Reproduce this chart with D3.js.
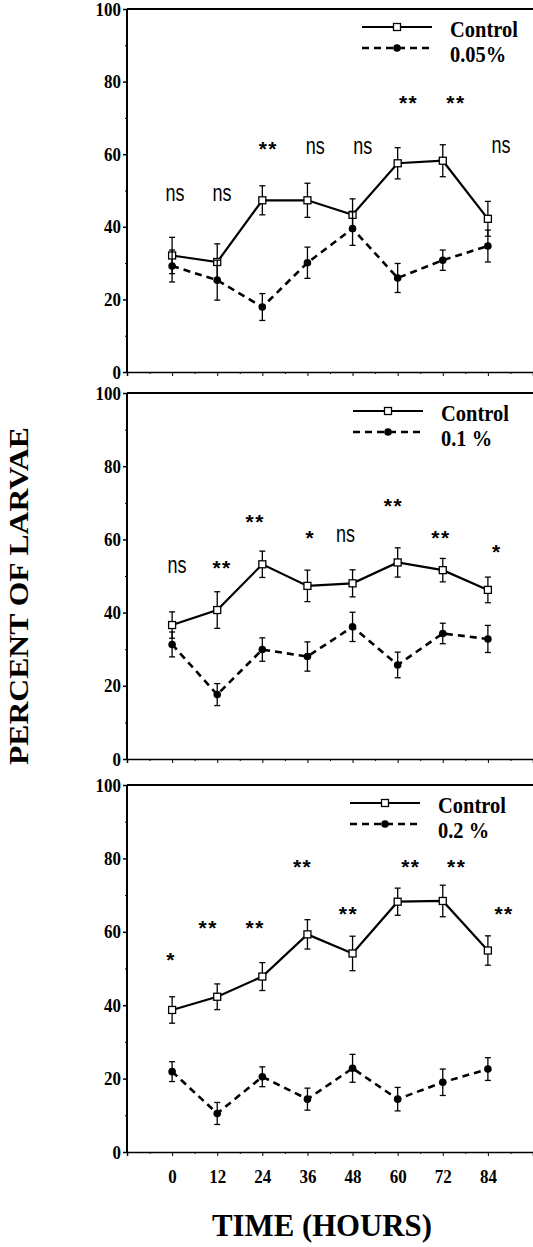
<!DOCTYPE html>
<html><head><meta charset="utf-8">
<script src="https://cdn.jsdelivr.net/npm/d3@7"></script>
<style>body{margin:0;background:#fff}svg{display:block}</style>
</head><body>
<svg id="chart" width="533" height="1247"></svg>
<script>
// ---------- data ----------
const hours = [0, 12, 24, 36, 48, 60, 72, 84];
const xTickLabels = ["0", "12", "24", "36", "48", "60", "72", "84"];
const yTicks = [0, 20, 40, 60, 80, 100];
const yMinorTicks = [10, 30, 50, 70, 90];
const xMinorTicks = [-6, 6, 18, 30, 42, 54, 66, 78, 90];
const controlName = "Control";
const doseNames = ["0.05%", "0.1 %", "0.2 %"];

const control005 = [32.1, 30.3, 47.3, 47.3, 43.3, 57.5, 58.2, 42.2];
const control005Err = [5.0, 5.0, 4.0, 4.7, 4.4, 4.3, 4.4, 4.8];
const dose005 = [29.2, 25.3, 17.9, 30.1, 39.5, 25.9, 30.8, 34.7];
const dose005Err = [4.4, 5.5, 3.7, 4.3, 4.6, 4.0, 2.8, 4.4];
const sig005 = ["ns", "ns", "**", "ns", "ns", "**", "**", "ns"];
const sig005Level = [49, 49, 62.8, 61.9, 61.9, 75.6, 75.6, 62];
const sig005Hour = [0.8, 13.3, 25.6, 38.1, 50.7, 62.9, 75.5, 87.5];

const control01 = [36.6, 40.7, 53.2, 47.3, 48.0, 53.7, 51.6, 46.2];
const control01Err = [3.6, 5.0, 3.6, 4.3, 3.7, 4.0, 3.2, 3.5];
const dose01 = [31.3, 17.6, 29.9, 28.0, 36.1, 25.7, 34.3, 32.8];
const dose01Err = [3.4, 3.0, 3.2, 4.0, 4.0, 3.5, 2.8, 3.7];
const sig01 = ["ns", "**", "**", "*", "ns", "**", "**", "*"];
const sig01Level = [52.5, 53.5, 66, 61.7, 61, 70.5, 61.8, 58];
const sig01Hour = [1.3, 13.3, 22.1, 36.8, 46.1, 58.9, 71.5, 86.4];

const control02 = [38.7, 42.3, 47.8, 59.3, 54.1, 68.2, 68.4, 54.9];
const control02Err = [3.6, 3.5, 3.8, 4.0, 4.7, 3.7, 4.3, 4.0];
const dose02 = [21.9, 10.5, 20.5, 14.4, 22.8, 14.4, 19.0, 22.6];
const dose02Err = [2.7, 3.0, 2.7, 3.0, 3.8, 3.2, 3.6, 3.1];
const sig02 = ["*", "**", "**", "**", "**", "**", "**", "**"];
const sig02Level = [53.7, 62.4, 62.4, 79.1, 66.2, 79.1, 79.1, 66.2];
const sig02Hour = [-0.3, 9.6, 22.1, 34.7, 46.9, 63.5, 75.7, 88.3];

const panelData = [
  {dose: doseNames[0], control: control005, controlErr: control005Err, treat: dose005, treatErr: dose005Err, sig: sig005, sigLevel: sig005Level, sigHour: sig005Hour},
  {dose: doseNames[1], control: control01, controlErr: control01Err, treat: dose01, treatErr: dose01Err, sig: sig01, sigLevel: sig01Level, sigHour: sig01Hour},
  {dose: doseNames[2], control: control02, controlErr: control02Err, treat: dose02, treatErr: dose02Err, sig: sig02, sigLevel: sig02Level, sigHour: sig02Hour}
];

// ---------- layout ----------
const panelTops = [9, 393, 785];
const panelBottoms = [372, 759, 1152];
const legendX = [362, 353, 350];
const left = 127, right = 533;
const SY = 1.12; // vertical stretch of the scanned figure's lettering
const serif = "'Liberation Serif','Times New Roman',serif";
const sans = "'Liberation Sans',Arial,sans-serif";

const svg = d3.select("#chart");
const x = d3.scaleLinear().domain([-12, 96]).range([left, right]);

function stretchedText(parent, px, py, str, sy) {
  return parent.append("g").attr("transform", `translate(${px},${py}) scale(1,${sy})`)
    .append("text").attr("x", 0).attr("y", 0).text(str);
}

panelData.forEach((pd, i) => {
  const top = panelTops[i], bottom = panelBottoms[i];
  const y = d3.scaleLinear().domain([0, 100]).range([bottom, top]);
  const g = svg.append("g");

  // frame lines
  g.append("line").attr("x1", left).attr("x2", right).attr("y1", top).attr("y2", top)
    .attr("stroke", "#000").attr("stroke-width", 2);
  g.append("line").attr("x1", left).attr("x2", left).attr("y1", top).attr("y2", bottom)
    .attr("stroke", "#000").attr("stroke-width", 2);

  // y axis
  const yAx = g.append("g").attr("transform", `translate(${left},0)`)
    .call(d3.axisLeft(y).tickValues(yTicks).tickSize(4).tickPadding(2).tickFormat(d3.format("d")));
  yAx.select(".domain").remove();
  yAx.selectAll("line").attr("stroke-width", 1.5);
  yAx.selectAll("text").attr("font-family", serif).attr("font-weight", "bold")
    .attr("font-size", 17).attr("fill", "#000").attr("transform", `scale(1,${SY})`);
  const yMin = g.append("g").attr("transform", `translate(${left},0)`)
    .call(d3.axisLeft(y).tickValues(yMinorTicks).tickSize(2).tickFormat(""));
  yMin.select(".domain").remove();

  // x axis
  const xAx = g.append("g").attr("transform", `translate(0,${bottom})`)
    .call(d3.axisBottom(x).tickValues(hours).tickSize(4).tickPadding(12)
      .tickFormat((d, k) => i === 2 ? xTickLabels[k] : ""));
  xAx.select(".domain").attr("stroke-width", 1.5);
  xAx.selectAll("text").attr("font-family", serif).attr("font-weight", "bold")
    .attr("font-size", 17).attr("fill", "#000").attr("transform", `scale(1,${SY})`);
  const xMin = g.append("g").attr("transform", `translate(0,${bottom})`)
    .call(d3.axisBottom(x).tickValues(xMinorTicks).tickSize(2).tickFormat(""));
  xMin.select(".domain").remove();

  // series
  const series = [
    {vals: pd.control, err: pd.controlErr, dash: null, marker: "square"},
    {vals: pd.treat, err: pd.treatErr, dash: "7,5", marker: "circle"}
  ];
  series.forEach(s => {
    const pts = hours.map((h, k) => ({h, v: s.vals[k], e: s.err[k]}));
    const eb = g.append("g");
    pts.forEach(p => {
      eb.append("line").attr("x1", x(p.h)).attr("x2", x(p.h))
        .attr("y1", y(p.v - p.e)).attr("y2", y(p.v + p.e)).attr("stroke", "#000").attr("stroke-width", 1.3);
      [p.v - p.e, p.v + p.e].forEach(v => eb.append("line")
        .attr("x1", x(p.h) - 3).attr("x2", x(p.h) + 3).attr("y1", y(v)).attr("y2", y(v))
        .attr("stroke", "#000").attr("stroke-width", 1.3));
    });
    g.append("path").datum(pts)
      .attr("d", d3.line().x(p => x(p.h)).y(p => y(p.v)))
      .attr("fill", "none").attr("stroke", "#000").attr("stroke-width", s.dash ? 2.6 : 2.2)
      .attr("stroke-dasharray", s.dash);
    pts.forEach(p => {
      if (s.marker === "square") {
        g.append("rect").attr("x", x(p.h) - 3.5).attr("y", y(p.v) - 3.5)
          .attr("width", 7).attr("height", 7).attr("fill", "#fff").attr("stroke", "#000").attr("stroke-width", 1.3);
      } else {
        g.append("circle").attr("cx", x(p.h)).attr("cy", y(p.v)).attr("r", 3.8).attr("fill", "#000");
      }
    });
  });

  // significance labels
  pd.sig.forEach((s, k) => {
    const isNs = s === "ns";
    const t = isNs
      ? stretchedText(g, x(pd.sigHour[k]), y(pd.sigLevel[k]) + 6.5, s, 1.3)
          .attr("font-size", 18).attr("font-family", sans)
      : stretchedText(g, x(pd.sigHour[k]), y(pd.sigLevel[k]) + 12, s, 1.0)
          .attr("font-size", 21).attr("font-weight", "bold").attr("font-family", sans).attr("letter-spacing", 1.5);
    t.attr("text-anchor", "middle").attr("fill", "#000");
  });

  // legend
  const lx = legendX[i];
  g.append("line").attr("x1", lx).attr("x2", lx + 70).attr("y1", top + 18).attr("y2", top + 18)
    .attr("stroke", "#000").attr("stroke-width", 1.8);
  g.append("rect").attr("x", lx + 35 - 3.5).attr("y", top + 18 - 3.5).attr("width", 7).attr("height", 7)
    .attr("fill", "#fff").attr("stroke", "#000").attr("stroke-width", 1.3);
  g.append("line").attr("x1", lx).attr("x2", lx + 68).attr("y1", top + 39).attr("y2", top + 39)
    .attr("stroke", "#000").attr("stroke-width", 2.4).attr("stroke-dasharray", "7,5");
  g.append("circle").attr("cx", lx + 35).attr("cy", top + 39).attr("r", 3.8).attr("fill", "#000");
  stretchedText(g, lx + 88, top + 28, controlName, SY).attr("font-family", serif)
    .attr("font-weight", "bold").attr("font-size", 20.5);
  stretchedText(g, lx + 88, top + 53, pd.dose, SY).attr("font-family", serif)
    .attr("font-weight", "bold").attr("font-size", 20.5);
});

// axis titles
svg.append("text").attr("transform", "translate(28,596) rotate(-90)")
  .attr("text-anchor", "middle").attr("font-family", serif).attr("font-weight", "bold")
  .attr("font-size", 27).attr("textLength", 338).attr("lengthAdjust", "spacingAndGlyphs")
  .text("PERCENT OF LARVAE");
stretchedText(svg, 322, 1236, "TIME (HOURS)", 1.08)
  .attr("text-anchor", "middle").attr("font-family", serif).attr("font-weight", "bold")
  .attr("font-size", 30).attr("textLength", 220).attr("lengthAdjust", "spacingAndGlyphs");
</script>
</body></html>
